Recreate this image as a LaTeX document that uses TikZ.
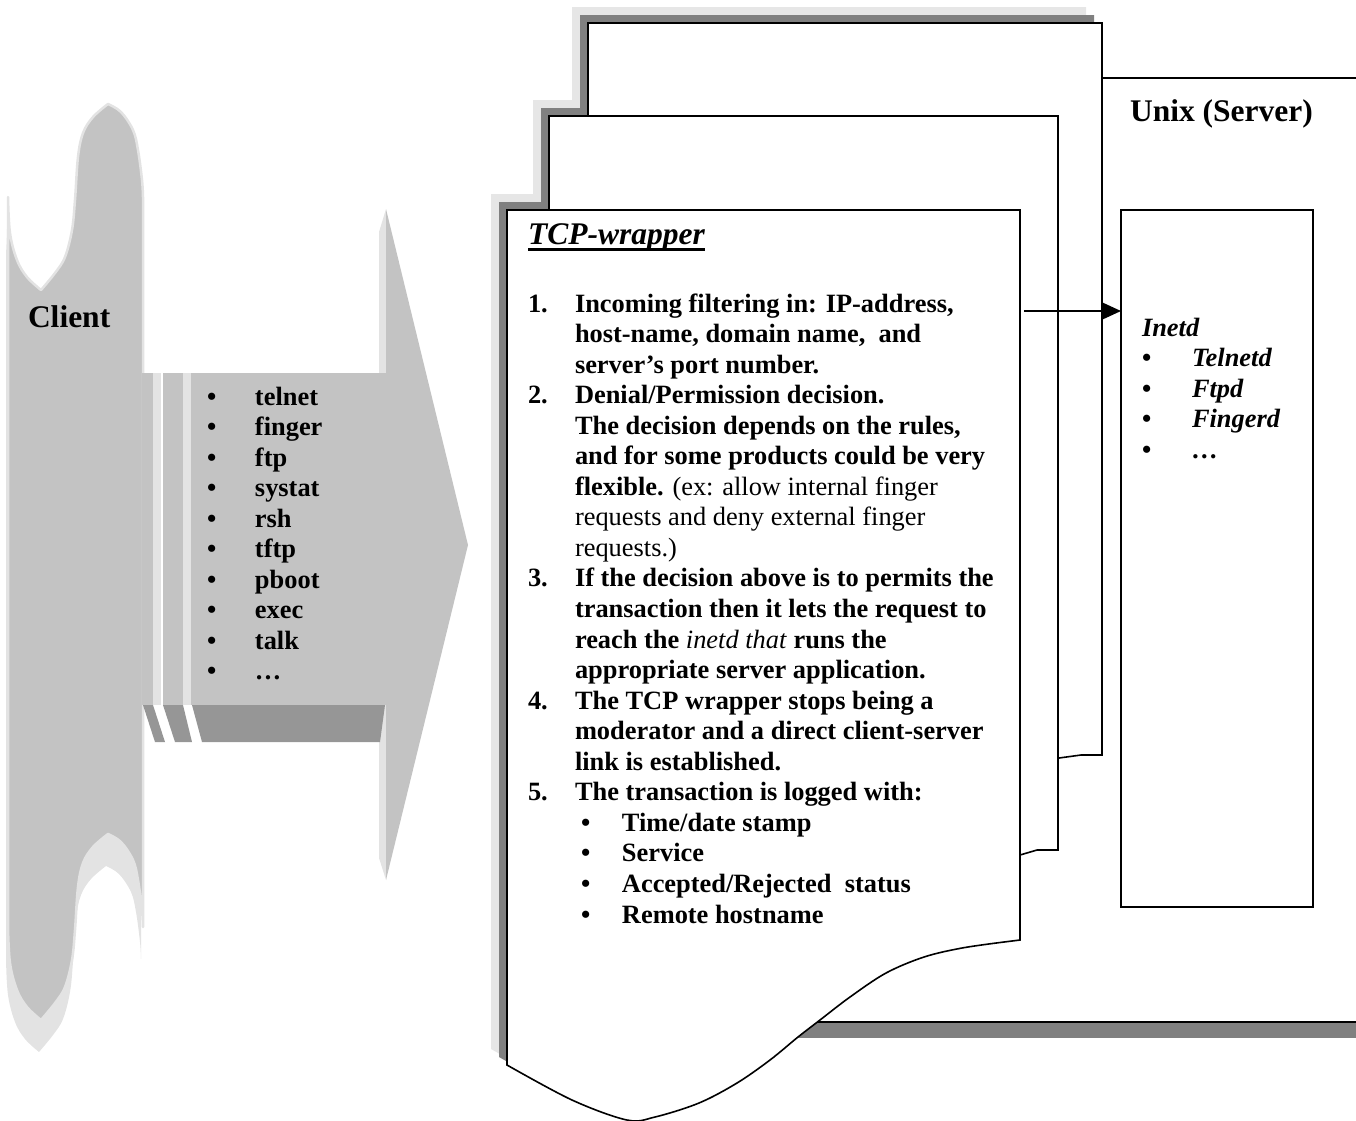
\documentclass[tikz,border=0pt]{standalone}
\usepackage{fontspec}
\setmainfont{Liberation Serif}
\usetikzlibrary{arrows.meta}
\definecolor{cbody}{HTML}{C3C3C3}
\definecolor{cedge}{HTML}{E3E3E3}
\definecolor{cface}{HTML}{969696}
\definecolor{shdark}{HTML}{808080}
\definecolor{shlight}{HTML}{E6E6E6}
\newcommand\bodyfont{\fontsize{26.4pt}{30.55pt}\selectfont}
\newcommand\headfont{\fontsize{31.5pt}{36pt}\selectfont}
\newcommand\myul[1]{\setbox0\hbox{#1}\rlap{\rule[-7pt]{\wd0}{2.6pt}}\box0}
\newcommand\clientpath{plot[smooth, tension=0.6] coordinates {(8,197) (10,233) (17,260) (27,277) (41,290)}
 -- plot[smooth, tension=0.6] coordinates {(41,290) (55,273) (65,257) (72,230) (75,200) (78,157) (83,133) (93,117) (108,104)}
 -- plot[smooth, tension=0.6] coordinates {(108,104) (121,112) (133,130) (138,150) (142,180) (143,197)}
 -- (143,927)
 -- plot[smooth, tension=0.6] coordinates {(143,927) (142,910) (138,880) (133,860) (121,842) (108,834)}
 -- plot[smooth, tension=0.6] coordinates {(108,834) (93,847) (83,863) (78,887) (75,930) (72,960) (65,987) (55,1003) (41,1020)}
 -- plot[smooth, tension=0.6] coordinates {(41,1020) (27,1007) (17,990) (10,963) (8,927)}
 -- cycle}
\newcommand\backpage{(588,23) -- (1102,23) -- (1102,755) -- (1081,755) -- (1059,758) -- (588,800) -- cycle}
\newcommand\midpage{(549,116) -- (1058,116) -- (1058,850) -- (1037,850) -- (1020,855) -- (549,900) -- cycle}
\newcommand\frontpage{(507,210) -- (1020,210) -- (1020,940) -- (1004,942)
 -- plot[smooth, tension=0.55] coordinates {(1004,942) (962,948) (924,957) (886,973) (850,997) (820,1020) (798,1037) (770,1060) (737,1083) (699,1103) (655,1117) (627,1120) (572,1100) (507,1065)} -- cycle}
\newcommand\bul{\textbf{\upshape •}}
\tikzset{
  pageline/.style={draw=black, fill=white, line width=1.6pt, line join=miter},
  txt/.style={inner sep=0pt, outer sep=0pt, anchor=base west},
  boxline/.style={draw=black, fill=white, line width=1.6pt, inner sep=0pt, outer sep=0pt, anchor=north west},
  conn/.style={line width=1.6pt, -{Triangle[length=20pt,width=18pt]}}
}
\begin{document}
\begin{tikzpicture}[x=1pt,y=-1pt]
\useasboundingbox (0,0) rectangle (1356,1120);
\clip (0,0) rectangle (1356,1120);

% ---------- Client banner ----------
\begin{scope}[shift={(-2,32)}]
  \fill[cedge] \clientpath;
\end{scope}
\path[fill=cbody, draw=cedge, line width=2.5pt, line join=round] \clientpath;
\node[txt] (client) at (28,327) {\headfont\bfseries Client};

% ---------- striped arrow ----------
\fill[cedge] (379,232) -- (386,209) -- (386,880) -- (379,858) -- cycle;
\fill[cbody] (386,209) -- (468,545) -- (386,880) -- cycle;
\fill[cbody] (142,373) rectangle (153,705);
\fill[cedge] (153,373) rectangle (161,705);
\fill[cbody] (163,373) rectangle (183,705);
\fill[cedge] (183,373) rectangle (191,705);
\fill[cbody] (191,373) rectangle (390,705);
\fill[cface] (143,705) -- (153,705) -- (165,742) -- (155,742) -- cycle;
\fill[cface] (163,705) -- (183,705) -- (192,742) -- (175,742) -- cycle;
\fill[cface] (192,705) -- (385,705) -- (380,742) -- (202,742) -- cycle;
\node[txt] (services) at (207,405) {\bodyfont\bfseries\begin{tabular}[t]{@{}l@{}}
\makebox[48pt][l]{\bul}telnet\\
\makebox[48pt][l]{\bul}finger\\
\makebox[48pt][l]{\bul}ftp\\
\makebox[48pt][l]{\bul}systat\\
\makebox[48pt][l]{\bul}rsh\\
\makebox[48pt][l]{\bul}tftp\\
\makebox[48pt][l]{\bul}pboot\\
\makebox[48pt][l]{\bul}exec\\
\makebox[48pt][l]{\bul}talk\\
\makebox[48pt][l]{\bul}…
\end{tabular}};

% ---------- Unix server box ----------
\fill[shdark] (716,94) rectangle (1416,1038);
\node[boxline, minimum width=700pt, minimum height=944pt] (unix) at (700,78) {};
\node[txt] (unixlabel) at (1130,121) {\headfont\bfseries Unix (Server)};
\node[boxline, minimum width=192pt, minimum height=697pt] (inetd) at (1121,210) {};
\node[txt] (inetdlist) at (1142,336) {\bodyfont\bfseries\itshape\begin{tabular}[t]{@{}l@{}}
Inetd\\
\makebox[50pt][l]{\bul}Telnetd\\
\makebox[50pt][l]{\bul}Ftpd\\
\makebox[50pt][l]{\bul}Fingerd\\
\makebox[50pt][l]{\bul}…
\end{tabular}};

% ---------- page stack shadows ----------
\begin{scope}[shift={(-16,-16)}]
  \fill[shlight] \backpage; \fill[shlight] \midpage; \fill[shlight] \frontpage;
\end{scope}
\begin{scope}[shift={(-8,-8)}]
  \fill[shdark] \backpage; \fill[shdark] \midpage; \fill[shdark] \frontpage;
\end{scope}
% ---------- pages ----------
\path[pageline] \backpage;
\path[pageline] \midpage;
\path[pageline] \frontpage;
\coordinate (front) at (1020,311);

\node[txt] (tcptitle) at (528,244) {\headfont\bfseries\itshape\myul{TCP-wrapper}};
\node[txt] (tcplist) at (528,312) {\bodyfont\begin{tabular}[t]{@{}l@{}}
\makebox[47pt][l]{\textbf{1.}}\textbf{Incoming filtering in: IP-address,}\\
\hspace*{47pt}\textbf{host-name, domain name,\ \ and}\\
\hspace*{47pt}\textbf{server’s port number.}\\
\makebox[47pt][l]{\textbf{2.}}\textbf{Denial/Permission decision.}\\
\hspace*{47pt}\textbf{The decision depends on the rules,}\\
\hspace*{47pt}\textbf{and for some products could be very}\\
\hspace*{47pt}\textbf{flexible.} (ex: allow internal finger\\
\hspace*{47pt}requests and deny external finger\\
\hspace*{47pt}requests.)\\
\makebox[47pt][l]{\textbf{3.}}\textbf{If the decision above is to permits the}\\
\hspace*{47pt}\textbf{transaction then it lets the request to}\\
\hspace*{47pt}\textbf{reach the} \textit{inetd that} \textbf{runs the}\\
\hspace*{47pt}\textbf{appropriate server application.}\\
\makebox[47pt][l]{\textbf{4.}}\textbf{The TCP wrapper stops being a}\\
\hspace*{47pt}\textbf{moderator and a direct client-server}\\
\hspace*{47pt}\textbf{link is established.}\\
\makebox[47pt][l]{\textbf{5.}}\textbf{The transaction is logged with:}\\
\hspace*{53pt}\makebox[41pt][l]{\bul}\textbf{Time/date stamp}\\
\hspace*{53pt}\makebox[41pt][l]{\bul}\textbf{Service}\\
\hspace*{53pt}\makebox[41pt][l]{\bul}\textbf{Accepted/Rejected\ \ status}\\
\hspace*{53pt}\makebox[41pt][l]{\bul}\textbf{Remote hostname}
\end{tabular}};

% ---------- connector ----------
\draw[conn] ([xshift=4pt]front) -- (inetd.west |- front);
\end{tikzpicture}
\end{document}
